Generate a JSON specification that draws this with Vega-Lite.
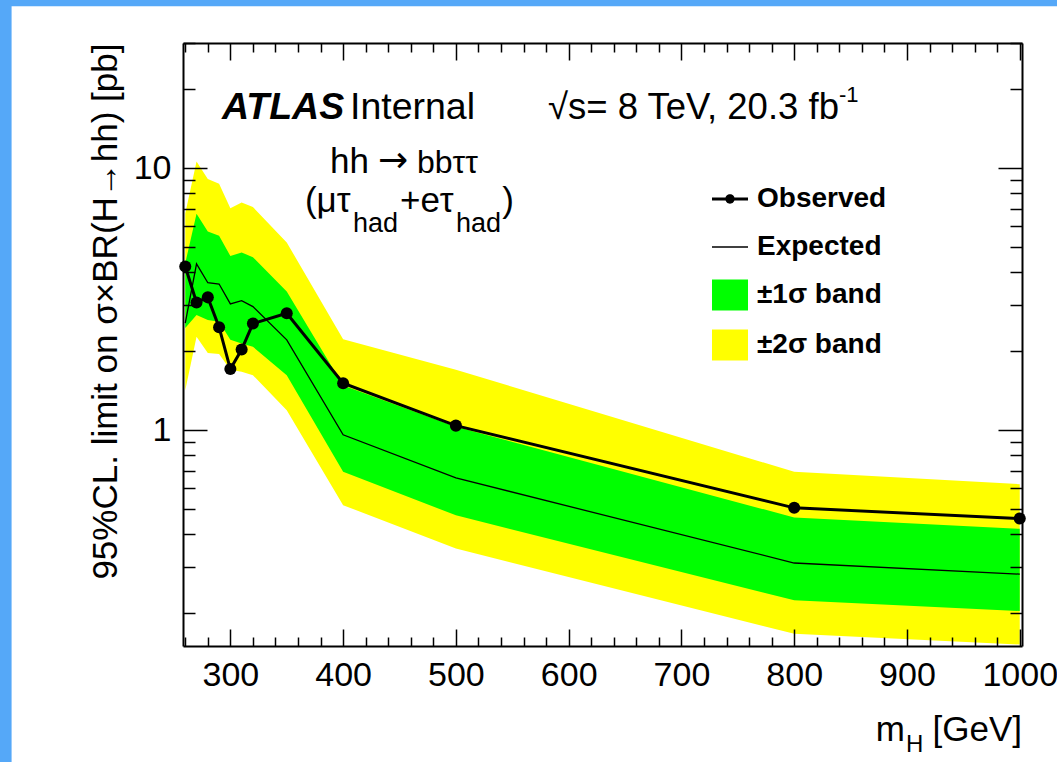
{
  "$schema": "https://vega.github.io/schema/vega-lite/v6.json",
  "autosize": {"type": "none"},
  "padding": {"left": 183, "top": 43, "right": 35, "bottom": 116},
  "width": 839,
  "height": 603,
  "background": "#55a8f8",
  "config": {"view": {"stroke": null}, "font": "Liberation Sans"},
  "datasets": {
    "limits": [
      {"m": 260, "obs": 4.21, "exp": 2.56, "m1": 2.45, "p1": 4.33, "m2": 1.42, "p2": 6.7},
      {"m": 270, "obs": 3.07, "exp": 4.31, "m1": 2.75, "p1": 6.69, "m2": 2.27, "p2": 10.6},
      {"m": 280, "obs": 3.21, "exp": 3.65, "m1": 2.63, "p1": 5.72, "m2": 1.97, "p2": 9.08},
      {"m": 290, "obs": 2.47, "exp": 3.61, "m1": 2.59, "p1": 5.51, "m2": 1.95, "p2": 8.71},
      {"m": 300, "obs": 1.71, "exp": 3.03, "m1": 2.21, "p1": 4.62, "m2": 1.70, "p2": 7.03},
      {"m": 310, "obs": 2.03, "exp": 3.12, "m1": 2.14, "p1": 4.76, "m2": 1.67, "p2": 7.39},
      {"m": 320, "obs": 2.55, "exp": 2.96, "m1": 2.08, "p1": 4.57, "m2": 1.62, "p2": 7.10},
      {"m": 350, "obs": 2.79, "exp": 2.21, "m1": 1.62, "p1": 3.38, "m2": 1.19, "p2": 5.2},
      {"m": 400, "obs": 1.51, "exp": 0.96, "m1": 0.693, "p1": 1.48, "m2": 0.517, "p2": 2.22},
      {"m": 500, "obs": 1.04, "exp": 0.657, "m1": 0.473, "p1": 1.03, "m2": 0.353, "p2": 1.7},
      {"m": 800, "obs": 0.505, "exp": 0.311, "m1": 0.224, "p1": 0.464, "m2": 0.167, "p2": 0.693},
      {"m": 1000, "obs": 0.46, "exp": 0.282, "m1": 0.204, "p1": 0.42, "m2": 0.152, "p2": 0.622}
    ]
  },
  "data": {"name": "limits"},
  "resolve": {"scale": {"x": "shared", "y": "shared"}, "axis": {"x": "independent", "y": "independent"}},
  "layer": [
    {
      "data": {"values": [{}]},
      "mark": {"type": "rect", "color": "white"},
      "encoding": {
        "x": {"datum": 106, "type": "quantitative", "axis": null, "scale": {"type": "linear", "domain": [258, 1002], "nice": false, "zero": false}},
        "x2": {"datum": 3000},
        "y": {"datum": 41.4, "type": "quantitative", "axis": null, "scale": {"type": "log", "domain": [0.15, 30], "nice": false}},
        "y2": {"datum": 0.001}
      }
    },
    {
      "mark": {"type": "area", "color": "#ffff00"},
      "encoding": {
        "x": {"field": "m", "type": "quantitative", "scale": {"type": "linear", "domain": [258, 1002], "nice": false, "zero": false},
          "axis": {"orient": "bottom", "values": [300, 400, 500, 600, 700, 800, 900, 1000], "format": "d", "ticks": false, "domain": true, "domainColor": "black", "domainWidth": 2, "labels": true, "labelFont": "Liberation Sans", "labelFontSize": 34, "labelColor": "black", "labelPadding": 12, "labelFlush": false, "labelOverlap": false, "labelBound": false, "grid": false, "title": null, "zindex": 1}},
        "y": {"field": "p2", "type": "quantitative", "scale": {"type": "log", "domain": [0.15, 30], "nice": false},
          "axis": {"orient": "left", "values": [1, 10], "format": "~g", "ticks": false, "domain": true, "domainColor": "black", "domainWidth": 2, "labels": true, "labelFont": "Liberation Sans", "labelFontSize": 34, "labelColor": "black", "labelPadding": 12, "labelOverlap": false, "labelBound": false, "grid": false, "zindex": 1,
            "title": "95%CL. limit on σ×BR(H→hh) [pb]", "titleFont": "Liberation Sans", "titleFontSize": 35, "titleFontWeight": "normal", "titleColor": "black", "titleAnchor": "end", "titlePadding": 10}},
        "y2": {"field": "m2"}
      }
    },
    {
      "mark": {"type": "area", "color": "#00ff00"},
      "encoding": {
        "x": {"field": "m", "type": "quantitative",
          "axis": {"orient": "bottom", "values": [300, 400, 500, 600, 700, 800, 900, 1000], "ticks": true, "tickSize": -17, "tickColor": "black", "tickWidth": 1.5, "domain": false, "labels": false, "grid": false, "title": null, "zindex": 1}},
        "y": {"field": "p1", "type": "quantitative",
          "axis": {"orient": "left", "values": [1, 10], "ticks": true, "tickSize": -24, "tickColor": "black", "tickWidth": 1.5, "domain": false, "labels": false, "grid": false, "title": null, "zindex": 1}},
        "y2": {"field": "m1"}
      }
    },
    {
      "mark": {"type": "line", "color": "black", "strokeWidth": 1.3},
      "encoding": {
        "x": {"field": "m", "type": "quantitative",
          "axis": {"orient": "bottom", "values": [260, 280, 320, 340, 360, 380, 420, 440, 460, 480, 520, 540, 560, 580, 620, 640, 660, 680, 720, 740, 760, 780, 820, 840, 860, 880, 920, 940, 960, 980], "ticks": true, "tickSize": -9, "tickColor": "black", "tickWidth": 1.5, "domain": false, "labels": false, "grid": false, "title": null, "zindex": 1}},
        "y": {"field": "exp", "type": "quantitative",
          "axis": {"orient": "left", "values": [0.2, 0.3, 0.4, 0.5, 0.6, 0.7, 0.8, 0.9, 2, 3, 4, 5, 6, 7, 8, 9, 20, 30], "ticks": true, "tickSize": -12, "tickColor": "black", "tickWidth": 1.5, "domain": false, "labels": false, "grid": false, "title": null, "zindex": 1}}
      }
    },
    {
      "mark": {"type": "line", "color": "black", "strokeWidth": 3},
      "encoding": {
        "x": {"field": "m", "type": "quantitative",
          "axis": {"orient": "top", "values": [300, 400, 500, 600, 700, 800, 900, 1000], "ticks": true, "tickSize": -17, "tickColor": "black", "tickWidth": 1.5, "domain": true, "domainColor": "black", "domainWidth": 2, "labels": false, "grid": false, "title": null, "zindex": 1}},
        "y": {"field": "obs", "type": "quantitative",
          "axis": {"orient": "right", "values": [1, 10], "ticks": true, "tickSize": -24, "tickColor": "black", "tickWidth": 1.5, "domain": true, "domainColor": "black", "domainWidth": 2, "labels": false, "grid": false, "title": null, "zindex": 1}}
      }
    },
    {
      "mark": {"type": "point", "filled": true, "color": "black", "size": 145, "opacity": 1},
      "encoding": {
        "x": {"field": "m", "type": "quantitative",
          "axis": {"orient": "top", "values": [260, 280, 320, 340, 360, 380, 420, 440, 460, 480, 520, 540, 560, 580, 620, 640, 660, 680, 720, 740, 760, 780, 820, 840, 860, 880, 920, 940, 960, 980], "ticks": true, "tickSize": -9, "tickColor": "black", "tickWidth": 1.5, "domain": false, "labels": false, "grid": false, "title": null, "zindex": 1}},
        "y": {"field": "obs", "type": "quantitative",
          "axis": {"orient": "right", "values": [0.2, 0.3, 0.4, 0.5, 0.6, 0.7, 0.8, 0.9, 2, 3, 4, 5, 6, 7, 8, 9, 20, 30], "ticks": true, "tickSize": -12, "tickColor": "black", "tickWidth": 1.5, "domain": false, "labels": false, "grid": false, "title": null, "zindex": 1}}
      }
    },
    {
      "data": {"values": [{"entry": "Observed"}, {"entry": "Expected"}, {"entry": "±1σ band"}, {"entry": "±2σ band"}]},
      "mark": {"type": "point", "filled": true, "opacity": 0},
      "encoding": {
        "color": {"field": "entry", "type": "nominal",
          "scale": {"domain": ["Observed", "Expected", "±1σ band", "±2σ band"], "range": ["black", "black", "#00ff00", "#ffff00"]},
          "legend": {"orient": "none", "legendX": 529, "legendY": 138, "title": null, "padding": 0, "labelFont": "Liberation Sans", "labelFontSize": 28, "labelFontWeight": "bold", "labelColor": "black", "labelOffset": 9, "symbolSize": 1296, "symbolOpacity": 1, "symbolStrokeWidth": 0, "rowPadding": 16}},
        "shape": {"field": "entry", "type": "nominal",
          "scale": {"domain": ["Observed", "Expected", "±1σ band", "±2σ band"], "range": ["M-1,-0.08H1V0.08H-1Z M0.26,0A0.26,0.26 0 1 1 -0.26,0A0.26,0.26 0 1 1 0.26,0Z", "M-1,-0.035H1V0.035H-1Z", "M-1,-0.86H1V0.86H-1Z", "M-1,-0.86H1V0.86H-1Z"]},
          "legend": {"orient": "none", "legendX": 529, "legendY": 138, "title": null, "padding": 0, "labelFont": "Liberation Sans", "labelFontSize": 28, "labelFontWeight": "bold", "labelColor": "black", "labelOffset": 9, "symbolSize": 1296, "symbolOpacity": 1, "symbolStrokeWidth": 0, "rowPadding": 16}}
      }
    },
    {
      "data": {"values": [{}]},
      "mark": {"type": "text", "text": "ATLAS", "align": "left", "baseline": "alphabetic", "dx": -8.4, "dy": -49, "fontSize": 37.5, "fontWeight": "bold", "fontStyle": "italic", "font": "Liberation Sans", "color": "black"},
      "encoding": {"x": {"datum": 300, "type": "quantitative", "axis": null}, "y": {"datum": 10, "type": "quantitative", "axis": null}}
    },
    {
      "data": {"values": [{}]},
      "mark": {"type": "text", "text": "Internal", "align": "left", "baseline": "alphabetic", "dx": 119.6, "dy": -49, "fontSize": 37.5, "font": "Liberation Sans", "color": "black"},
      "encoding": {"x": {"datum": 300, "type": "quantitative", "axis": null}, "y": {"datum": 10, "type": "quantitative", "axis": null}}
    },
    {
      "data": {"values": [{}]},
      "mark": {"type": "text", "text": "√s= 8 TeV, 20.3 fb", "align": "left", "baseline": "alphabetic", "dx": 317.6, "dy": -49, "fontSize": 36.5, "font": "Liberation Sans", "color": "black"},
      "encoding": {"x": {"datum": 300, "type": "quantitative", "axis": null}, "y": {"datum": 10, "type": "quantitative", "axis": null}}
    },
    {
      "data": {"values": [{}]},
      "mark": {"type": "text", "text": "-1", "align": "left", "baseline": "alphabetic", "dx": 608.6, "dy": -66, "fontSize": 22, "font": "Liberation Sans", "color": "black"},
      "encoding": {"x": {"datum": 300, "type": "quantitative", "axis": null}, "y": {"datum": 10, "type": "quantitative", "axis": null}}
    },
    {
      "data": {"values": [{}]},
      "mark": {"type": "text", "text": "hh", "align": "left", "baseline": "alphabetic", "dx": 99.6, "dy": 5, "fontSize": 35, "font": "Liberation Sans", "color": "black"},
      "encoding": {"x": {"datum": 300, "type": "quantitative", "axis": null}, "y": {"datum": 10, "type": "quantitative", "axis": null}}
    },
    {
      "data": {"values": [{}]},
      "mark": {"type": "text", "text": "→", "align": "center", "baseline": "alphabetic", "dx": 162.6, "dy": 4, "fontSize": 36, "font": "DejaVu Sans", "color": "black"},
      "encoding": {"x": {"datum": 300, "type": "quantitative", "axis": null}, "y": {"datum": 10, "type": "quantitative", "axis": null}}
    },
    {
      "data": {"values": [{}]},
      "mark": {"type": "text", "text": "bbττ", "align": "left", "baseline": "alphabetic", "dx": 186.6, "dy": 5, "fontSize": 32, "font": "Liberation Sans", "color": "black"},
      "encoding": {"x": {"datum": 300, "type": "quantitative", "axis": null}, "y": {"datum": 10, "type": "quantitative", "axis": null}}
    },
    {
      "data": {"values": [{}]},
      "mark": {"type": "text", "text": "(μτ", "align": "left", "baseline": "alphabetic", "dx": 74.6, "dy": 44, "fontSize": 35, "font": "Liberation Sans", "color": "black"},
      "encoding": {"x": {"datum": 300, "type": "quantitative", "axis": null}, "y": {"datum": 10, "type": "quantitative", "axis": null}}
    },
    {
      "data": {"values": [{}]},
      "mark": {"type": "text", "text": "had", "align": "left", "baseline": "alphabetic", "dx": 122.6, "dy": 64, "fontSize": 27, "font": "Liberation Sans", "color": "black"},
      "encoding": {"x": {"datum": 300, "type": "quantitative", "axis": null}, "y": {"datum": 10, "type": "quantitative", "axis": null}}
    },
    {
      "data": {"values": [{}]},
      "mark": {"type": "text", "text": "+eτ", "align": "left", "baseline": "alphabetic", "dx": 169.6, "dy": 44, "fontSize": 35, "font": "Liberation Sans", "color": "black"},
      "encoding": {"x": {"datum": 300, "type": "quantitative", "axis": null}, "y": {"datum": 10, "type": "quantitative", "axis": null}}
    },
    {
      "data": {"values": [{}]},
      "mark": {"type": "text", "text": "had", "align": "left", "baseline": "alphabetic", "dx": 225.6, "dy": 64, "fontSize": 27, "font": "Liberation Sans", "color": "black"},
      "encoding": {"x": {"datum": 300, "type": "quantitative", "axis": null}, "y": {"datum": 10, "type": "quantitative", "axis": null}}
    },
    {
      "data": {"values": [{}]},
      "mark": {"type": "text", "text": ")", "align": "left", "baseline": "alphabetic", "dx": 272, "dy": 44, "fontSize": 35, "font": "Liberation Sans", "color": "black"},
      "encoding": {"x": {"datum": 300, "type": "quantitative", "axis": null}, "y": {"datum": 10, "type": "quantitative", "axis": null}}
    },
    {
      "data": {"values": [{}]},
      "mark": {"type": "text", "text": "[GeV]", "align": "right", "baseline": "alphabetic", "dx": 0, "dy": 95, "fontSize": 35, "font": "Liberation Sans", "color": "black"},
      "encoding": {"x": {"datum": 1002, "type": "quantitative", "axis": null}, "y": {"datum": 0.15, "type": "quantitative", "axis": null}}
    },
    {
      "data": {"values": [{}]},
      "mark": {"type": "text", "text": "H", "align": "left", "baseline": "alphabetic", "dx": -116, "dy": 106, "fontSize": 24, "font": "Liberation Sans", "color": "black"},
      "encoding": {"x": {"datum": 1002, "type": "quantitative", "axis": null}, "y": {"datum": 0.15, "type": "quantitative", "axis": null}}
    },
    {
      "data": {"values": [{}]},
      "mark": {"type": "text", "text": "m", "align": "right", "baseline": "alphabetic", "dx": -117, "dy": 95, "fontSize": 35, "font": "Liberation Sans", "color": "black"},
      "encoding": {"x": {"datum": 1002, "type": "quantitative", "axis": null}, "y": {"datum": 0.15, "type": "quantitative", "axis": null}}
    }
  ]
}
